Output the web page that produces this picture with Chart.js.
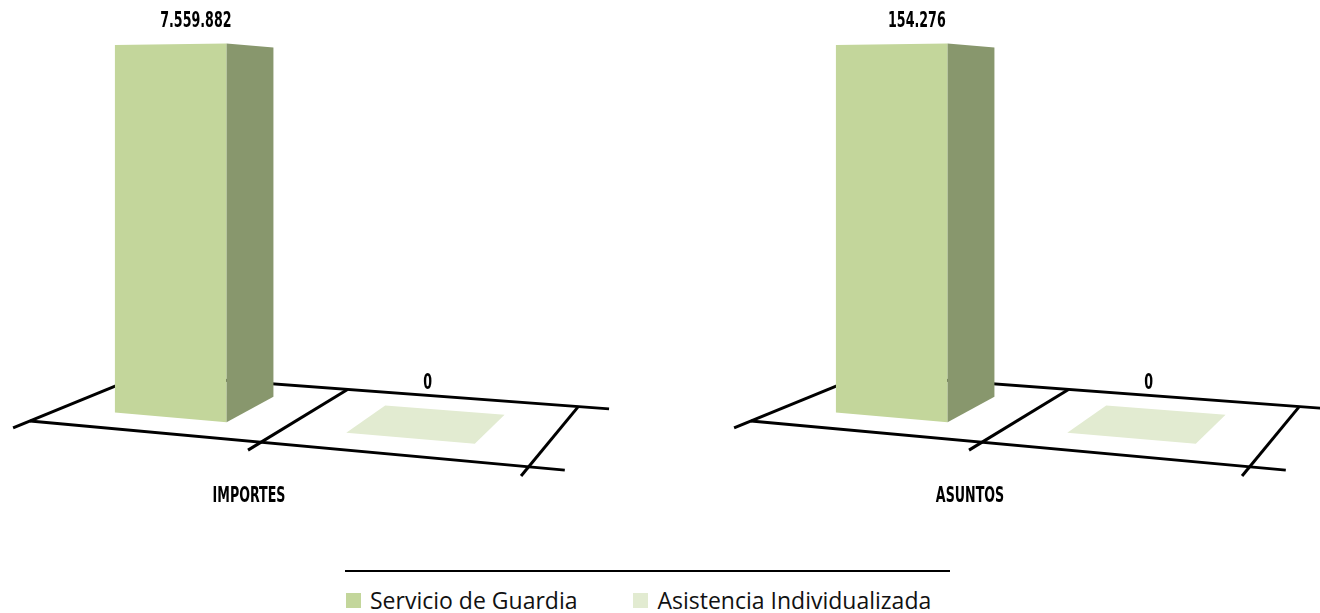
<!DOCTYPE html>
<html>
<head>
<meta charset="utf-8">
<script src="https://cdn.jsdelivr.net/npm/chart.js@4/dist/chart.umd.min.js"></script>
<style>
  html, body { margin:0; padding:0; background:#fff; width:1320px; height:613px; overflow:hidden; }
  .panel { position:absolute; top:0; width:620px; height:520px; }
  #p1 { left:0; }
  #p2 { left:721px; }
  #legendLine { position:absolute; left:345px; top:570px; width:605px; height:2px; background:#000; }
  #legend { position:absolute; left:346px; top:588px; height:24px; display:flex; align-items:center; gap:56px;
            font-family:"Open Sans", "Noto Sans", sans-serif; font-size:23px; color:#111; white-space:nowrap; }
  .item { display:flex; align-items:center; }
  .sw { width:15px; height:15px; margin-right:9px; }
</style>
</head>
<body>
<div class="panel" id="p1"><canvas id="c1" width="620" height="520"></canvas></div>
<div class="panel" id="p2"><canvas id="c2" width="620" height="520"></canvas></div>
<div id="legendLine"></div>
<div id="legend"></div>
<script>
// ---- data ----
const seriesNames = ['Servicio de Guardia', 'Asistencia Individualizada'];
const categories = ['IMPORTES', 'ASUNTOS'];
const servicioGuardia = [7559882, 154276];
const asistenciaIndividualizada = [0, 0];

// ---- styles ----
const legendColors = ['#C3D69B', '#E2EBD1'];
const faceColors = [
  { front:'#C3D69B', side:'#88976D', top:'#D3E2B3' },
  { front:'#D9E5C0', side:'#A3AD8E', top:'#E2EBD1' }
];
const LABEL_FONT = 'bold 21px "DejaVu Sans Condensed", "DejaVu Sans", sans-serif';
const LABEL_SQUEEZE = 0.67;
const HEADROOM = 1.1;
// perspective view geometry, as fractions of the chart area
const VIEW = {
  fl:[0.0484,0.8096], fr:[0.8526,0.8977], br:[0.9327,0.7819], bl:[0.2321,0.7198],
  horizon:0.1827, depth:[0.25,0.75], heightScale:1.273, tickExt:0.125, lineExt:0.062
};

function fmt(v){ return String(Math.round(v)).replace(/\B(?=(\d{3})+(?!\d))/g, '.'); }

function makeHomography(p0,p1,p2,p3){
  const sx = p0[0]-p1[0]+p2[0]-p3[0], sy = p0[1]-p1[1]+p2[1]-p3[1];
  const dx1 = p1[0]-p2[0], dx2 = p3[0]-p2[0], dy1 = p1[1]-p2[1], dy2 = p3[1]-p2[1];
  const det = dx1*dy2 - dx2*dy1;
  const g = (sx*dy2 - dx2*sy)/det, h = (dx1*sy - sx*dy1)/det;
  const a = p1[0]-p0[0]+g*p1[0], b = p3[0]-p0[0]+h*p3[0], c = p0[0];
  const d = p1[1]-p0[1]+g*p1[1], e = p3[1]-p0[1]+h*p3[1], f = p0[1];
  return (u,v)=>{ const w = g*u+h*v+1; return [(a*u+b*v+c)/w, (d*u+e*v+f)/w]; };
}

function area(poly){
  let s = 0;
  for (let i=0;i<poly.length;i++){ const p=poly[i], q=poly[(i+1)%poly.length]; s += p[0]*q[1]-q[0]*p[1]; }
  return s/2;
}

function squeezedText(ctx, s, x, y){
  ctx.save(); ctx.translate(x, y); ctx.scale(LABEL_SQUEEZE, 1); ctx.fillText(s, 0, 0); ctx.restore();
}

const bar3d = {
  id:'bar3d',
  afterDatasetsDraw(chart){
    const ctx = chart.ctx, ca = chart.chartArea;
    const W = ca.right-ca.left, H = ca.bottom-ca.top;
    const pt = q => [ca.left+q[0]*W, ca.top+q[1]*H];
    const G = makeHomography(pt(VIEW.fl), pt(VIEW.fr), pt(VIEW.br), pt(VIEW.bl));
    const hz = ca.top + VIEW.horizon*H;
    const P = (u,v,t)=>{ const g = G(u,v); return [g[0], g[1]+(hz-g[1])*t]; };
    ctx.save();
    // floor / axis lines
    ctx.strokeStyle = '#000'; ctx.lineWidth = 3; ctx.lineCap = 'butt';
    const seg = (a,b)=>{ ctx.beginPath(); ctx.moveTo(a[0],a[1]); ctx.lineTo(b[0],b[1]); ctx.stroke(); };
    seg(G(0,0), G(1+VIEW.lineExt,0));
    seg(G(0,1), G(1+VIEW.lineExt,1));
    const n = chart.data.datasets.length;
    for (let k=0;k<=n;k++) seg(G(k/n,-VIEW.tickExt), G(k/n,1));
    // bars
    const labels = [];
    const [v0,v1] = VIEW.depth;
    chart.data.datasets.forEach((ds,di)=>{
      const meta = chart.getDatasetMeta(di);
      meta.data.forEach((el,i)=>{
        const p = el.getProps(['x','y','base','width'], true);
        const u0 = (p.x - p.width/2 - ca.left)/W, u1 = (p.x + p.width/2 - ca.left)/W;
        const t = (p.base - p.y)/H * VIEW.heightScale;
        const col = faceColors[di];
        const faces = [
          [[P(u0,v0,0),P(u1,v0,0),P(u1,v0,t),P(u0,v0,t)], col.front],
          [[P(u1,v0,0),P(u1,v1,0),P(u1,v1,t),P(u1,v0,t)], col.side],
          [[P(u0,v1,0),P(u0,v0,0),P(u0,v0,t),P(u0,v1,t)], col.side],
          [[P(u0,v0,t),P(u1,v0,t),P(u1,v1,t),P(u0,v1,t)], col.top]
        ];
        faces.forEach(([poly,c])=>{
          if (area(poly) >= -0.01) return;
          ctx.fillStyle = c; ctx.beginPath();
          poly.forEach((q,j)=> j ? ctx.lineTo(q[0],q[1]) : ctx.moveTo(q[0],q[1]));
          ctx.closePath(); ctx.fill();
        });
        const top = faces[3][0];
        const cx = top.reduce((s,q)=>s+q[0],0)/4;
        const my = Math.min(...top.map(q=>q[1]));
        labels.push([fmt(ds.data[i]), cx, my-22]);
      });
    });
    ctx.fillStyle = '#000'; ctx.font = LABEL_FONT; ctx.textAlign = 'center'; ctx.textBaseline = 'middle';
    labels.forEach(([s,x,y])=>squeezedText(ctx, s, x, y));
    // category label
    const c0 = G(0.5,0), c1 = G(1,-VIEW.tickExt);
    chart.data.labels.forEach(l=>squeezedText(ctx, l, c0[0]-12, c1[1]+21));
    ctx.restore();
  }
};

function makePanel(id, idx){
  const vals = [servicioGuardia[idx], asistenciaIndividualizada[idx]];
  new Chart(document.getElementById(id), {
    type:'bar',
    data:{
      labels:[categories[idx]],
      datasets: seriesNames.map((name,k)=>({
        label:name, data:[vals[k]],
        backgroundColor:'rgba(0,0,0,0)', borderWidth:0,
        categoryPercentage:1, barPercentage:0.5
      }))
    },
    options:{
      responsive:false, animation:false, devicePixelRatio:1,
      layout:{ padding:0 },
      plugins:{ legend:{display:false}, tooltip:{enabled:false} },
      scales:{
        x:{ display:false },
        y:{ display:false, min:0, max:Math.max(...vals)*HEADROOM }
      }
    },
    plugins:[bar3d]
  });
}
makePanel('c1', 0);
makePanel('c2', 1);

// legend
const lg = document.getElementById('legend');
seriesNames.forEach((name,k)=>{
  const it = document.createElement('div'); it.className = 'item';
  const sw = document.createElement('div'); sw.className = 'sw'; sw.style.background = legendColors[k];
  const tx = document.createElement('span'); tx.textContent = name;
  it.appendChild(sw); it.appendChild(tx); lg.appendChild(it);
});
</script>
</body>
</html>
